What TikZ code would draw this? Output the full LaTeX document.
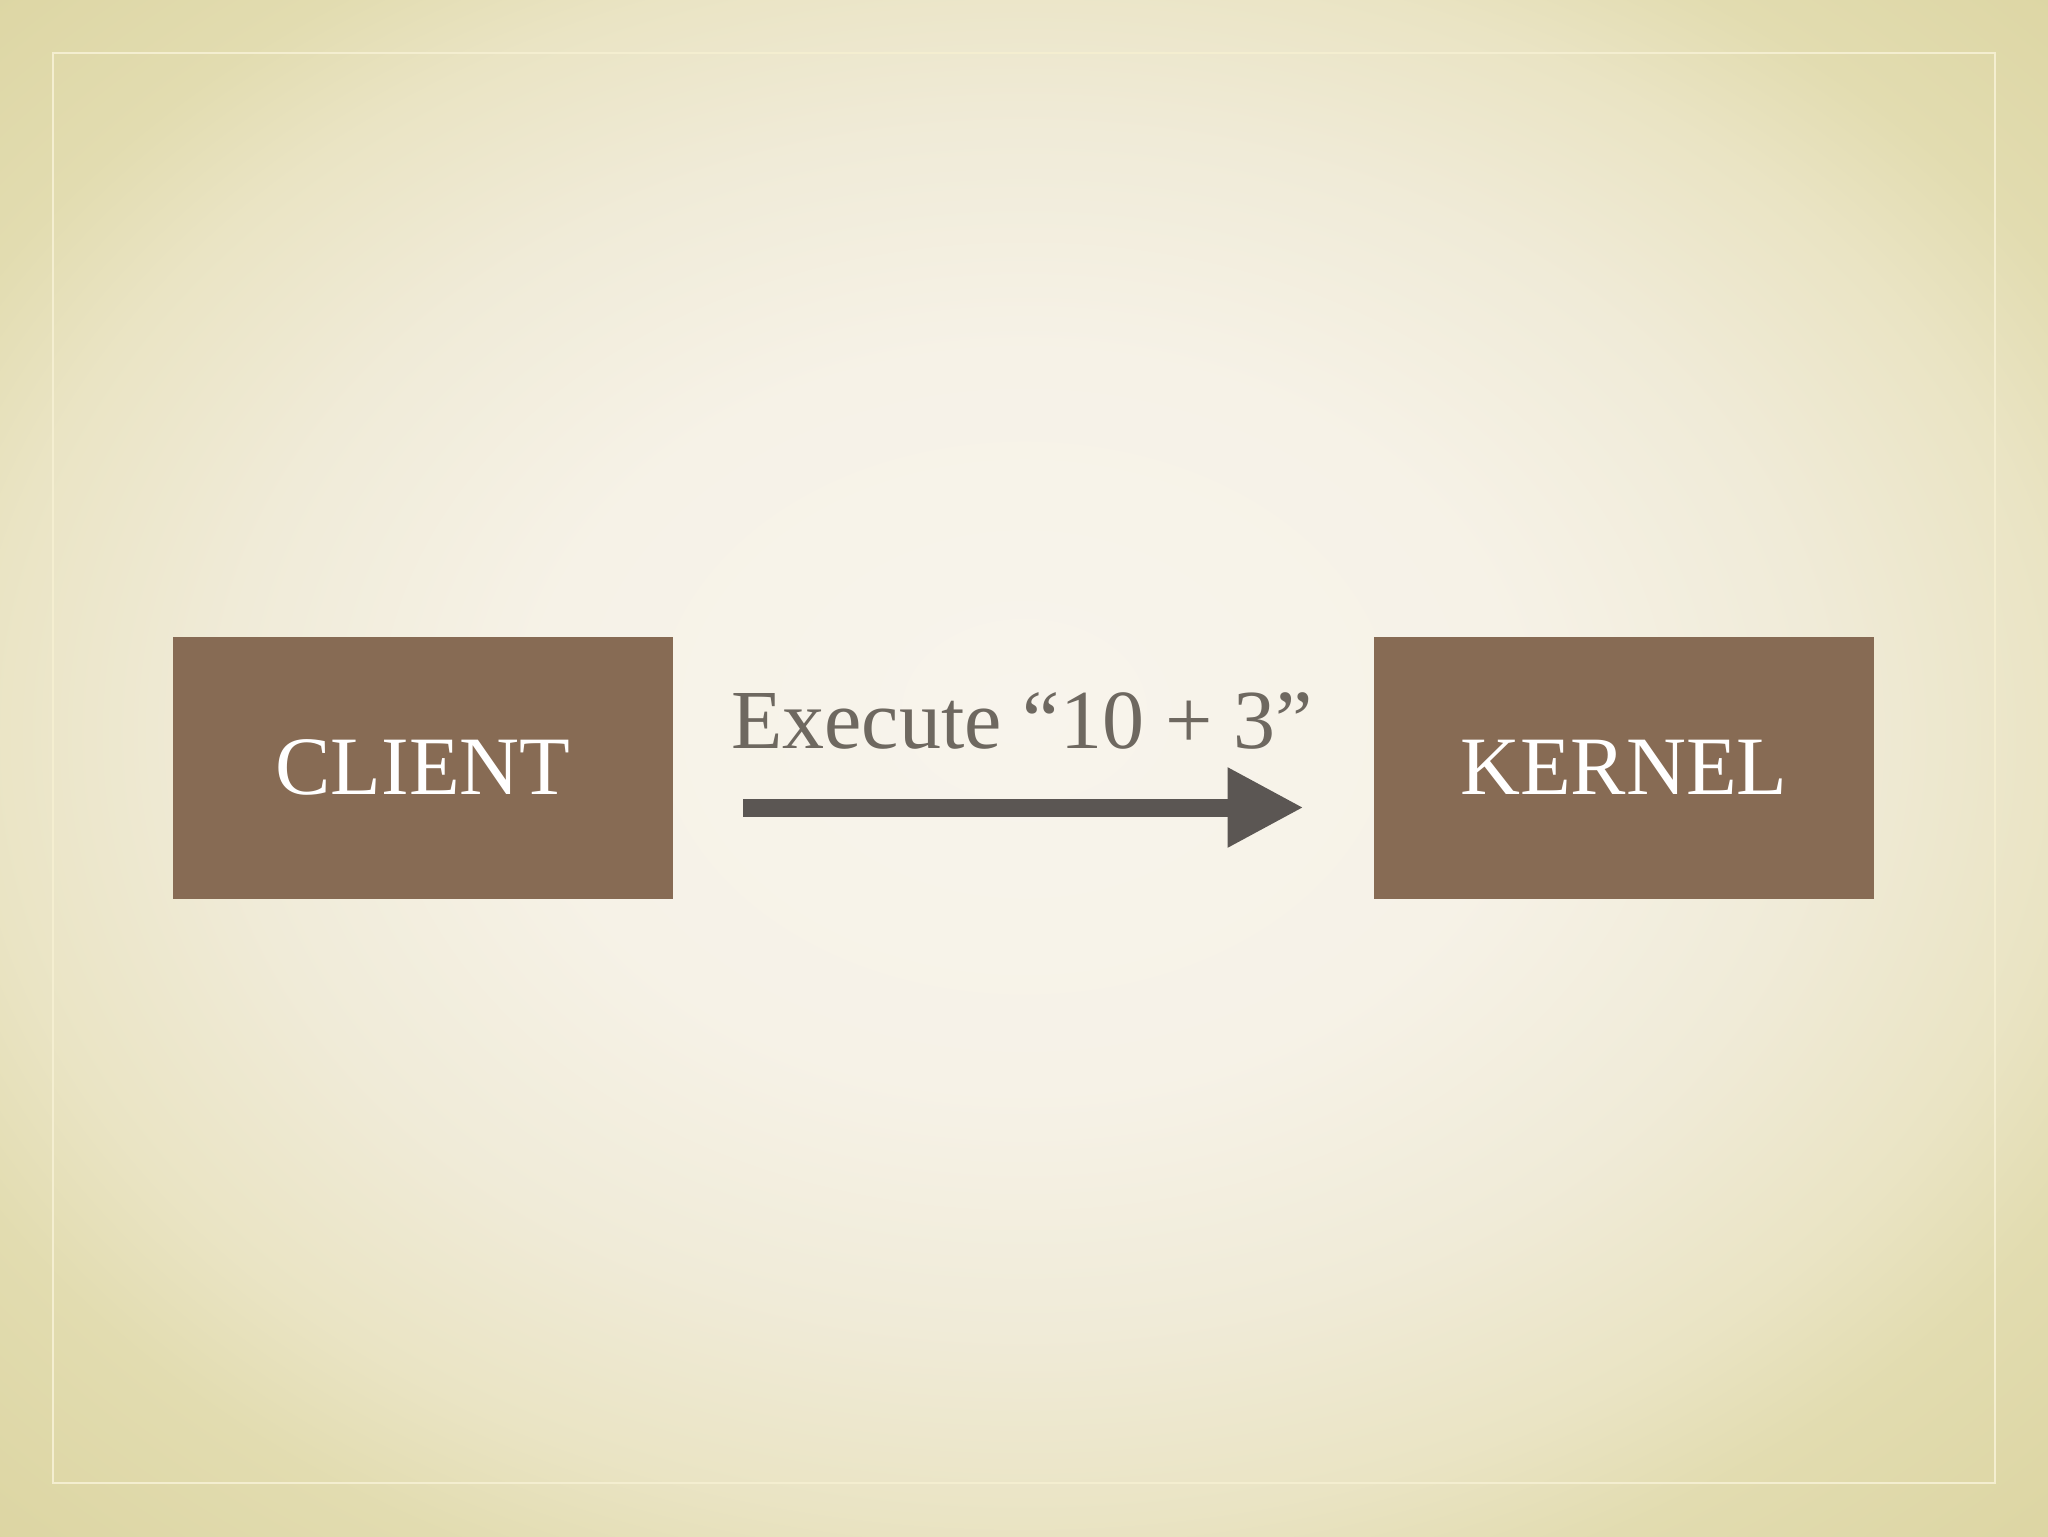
\documentclass[tikz,border=0pt]{standalone}
\usepackage{fontspec}
\setmainfont{Liberation Serif}
\usetikzlibrary{arrows.meta}
\definecolor{bgin}{HTML}{F8F4EC}
\definecolor{bgring}{HTML}{F6F2E7}
\definecolor{bgmid}{HTML}{F0EBD8}
\definecolor{bgnear}{HTML}{EAE4C4}
\definecolor{bgedge}{HTML}{E2DCB0}
\definecolor{bgout}{HTML}{D8D098}
\definecolor{boxfill}{HTML}{876B54}
\definecolor{arrowcol}{HTML}{5B5653}
\definecolor{labelcol}{HTML}{6E6860}
\definecolor{framecol}{HTML}{F4EED0}
\pgfdeclareradialshading{slidebg}{\pgfpoint{0bp}{2bp}}{color(0bp)=(bgin); color(12bp)=(bgring); color(19.5bp)=(bgmid); color(25.5bp)=(bgnear); color(29.5bp)=(bgedge); color(41bp)=(bgout); color(50bp)=(bgout)}
\tikzset{
  boxnode/.style={fill=boxfill, minimum width=250pt, minimum height=131pt, inner sep=0pt, text=white, font=\fontsize{41.5}{48}\selectfont},
  flowarrow/.style={draw=arrowcol, line width=9pt, -{Triangle[length=38pt,width=37.5pt]}, shorten <=35pt, shorten >=35pt},
  msglabel/.style={text=labelcol, font=\fontsize{42}{50}\selectfont, inner sep=0pt, anchor=base}
}
\begin{document}
\begin{tikzpicture}[x=0.5pt,y=-0.5pt]
\useasboundingbox (0,0) rectangle (2048,1536);
\shade[shading=slidebg] (0,0) rectangle (2048,1536);
\draw[framecol, line width=1.2pt] (53,53) rectangle (1995,1483);
\node[boxnode] (client) at (423,767.5) {CLIENT};
\node[boxnode] (kernel) at (1624,767.5) {KERNEL};
\node[msglabel] (msg) at (1022,748) {Execute “10 + 3”};
\draw[flowarrow] ([yshift=-20pt]client.east) -- ([yshift=-20pt]kernel.west);
\end{tikzpicture}
\end{document}
